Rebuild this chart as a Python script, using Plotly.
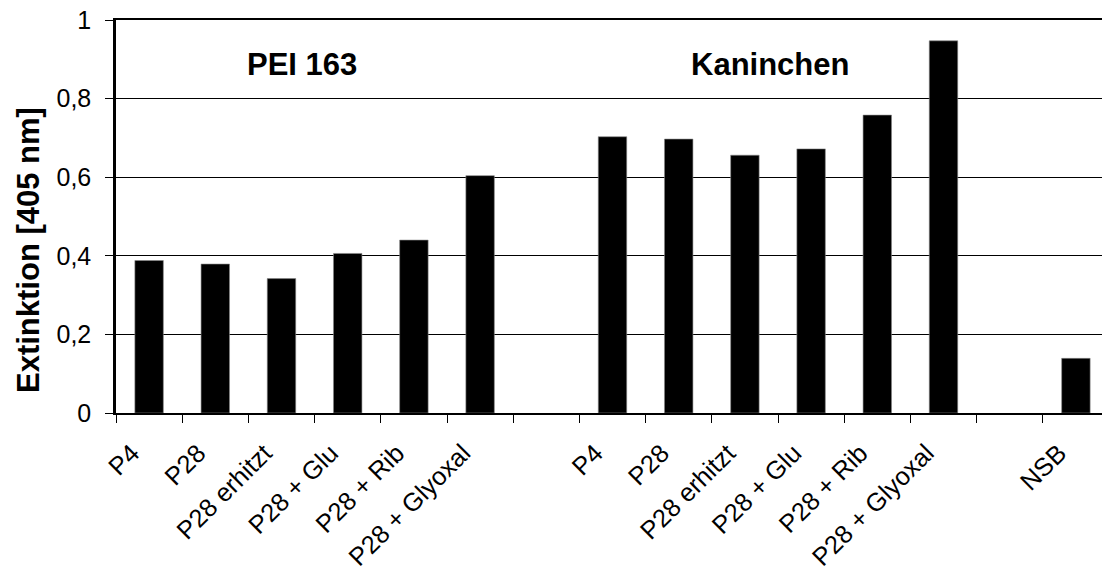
import plotly.graph_objects as go

# Extinktion bei 405 nm, zwei Antiseren plus NSB-Kontrolle
sample_labels = ["P4", "P28", "P28 erhitzt", "P28 + Glu", "P28 + Rib", "P28 + Glyoxal"]
pei_values = [0.388, 0.379, 0.342, 0.406, 0.440, 0.604]
kan_values = [0.703, 0.697, 0.656, 0.672, 0.758, 0.947]
nsb_label = "NSB"
nsb_value = 0.139
group_titles = ["PEI 163", "Kaninchen"]
y_ticks = [0, 0.2, 0.4, 0.6, 0.8, 1.0]
y_tick_text = ["0", "0,2", "0,4", "0,6", "0,8", "1"]

FONT = "Liberation Sans, Arial, sans-serif"

# slot layout: 6 bars, gap, 6 bars, gap, NSB
n = len(sample_labels)
pei_x = list(range(n))
kan_x = [n + 1 + i for i in range(n)]
nsb_x = 2 * n + 2
n_slots = nsb_x + 1

x_all = pei_x + kan_x + [nsb_x]
y_all = pei_values + kan_values + [nsb_value]
tick_text = sample_labels + sample_labels + [nsb_label]

W, H = 1102, 572
left, right, top, bottom = 116, 0, 20, 159
slot_px = 66.2
x_max = -0.5 + (W - left - right) / slot_px
x_range = [-0.5, x_max]
plot_h = H - top - bottom

fig = go.Figure()
fig.add_trace(go.Bar(
    x=x_all, y=y_all, width=0.43,
    marker=dict(color="black", line=dict(color="#888888", width=0.6)),
    showlegend=False, hoverinfo="x+y",
))
# invisible trace carrying the boundary tick axis
fig.add_trace(go.Scatter(x=[-0.5], y=[0], xaxis="x2", mode="markers",
                         marker=dict(opacity=0), showlegend=False, hoverinfo="skip"))

fig.update_layout(
    width=W, height=H,
    margin=dict(l=left, r=right, t=top, b=bottom, pad=0, autoexpand=False),
    paper_bgcolor="white", plot_bgcolor="white",
    font=dict(family=FONT, color="black", size=22),
    xaxis=dict(
        range=x_range, tickmode="array", tickvals=x_all, ticktext=tick_text,
        tickangle=-45, ticks="", showgrid=False, zeroline=False,
        showline=True, linecolor="black", linewidth=2, mirror=True,
        tickfont=dict(size=25.5, family=FONT, color="black"),
        ticklabelstandoff=13, ticklabelshift=-17, automargin=False,
    ),
    xaxis2=dict(
        range=x_range, overlaying="x", anchor="y", side="bottom",
        tickmode="array", tickvals=[i - 0.5 for i in range(n_slots + 1)],
        showticklabels=False, ticks="outside", ticklen=9, tickwidth=1.2,
        tickcolor="black", showgrid=False, zeroline=False, showline=False,
        automargin=False,
    ),
    yaxis=dict(
        range=[0, 1], tickmode="array", tickvals=y_ticks, ticktext=y_tick_text,
        ticks="outside", ticklen=8, tickwidth=1,
        tickcolor="black", showgrid=True, gridcolor="black", gridwidth=1,
        zeroline=False, showline=True, linecolor="black", linewidth=2.5,
        tickfont=dict(size=25, family=FONT, color="black"),
        ticklabelstandoff=9, automargin=False,
    ),
)

# y axis title
fig.add_annotation(
    text="<b>Extinktion [405 nm]</b>", xref="paper", yref="paper",
    x=-(left - 28) / (W - left - right), y=(H - bottom - 250) / plot_h,
    textangle=-90, showarrow=False, font=dict(size=31, family=FONT, color="black"),
    xanchor="center", yanchor="middle",
)

# group titles above each block
group_px = [301.7, 770]
for title, px in zip(group_titles, group_px):
    fig.add_annotation(
        text=f"<b>{title}</b>", xref="x", yref="y",
        x=x_range[0] + (px - left) / slot_px, y=1 - (64 - top) / plot_h,
        showarrow=False, font=dict(size=31, family=FONT, color="black"),
        xanchor="center", yanchor="middle",
    )

fig.write_html("out.html")
